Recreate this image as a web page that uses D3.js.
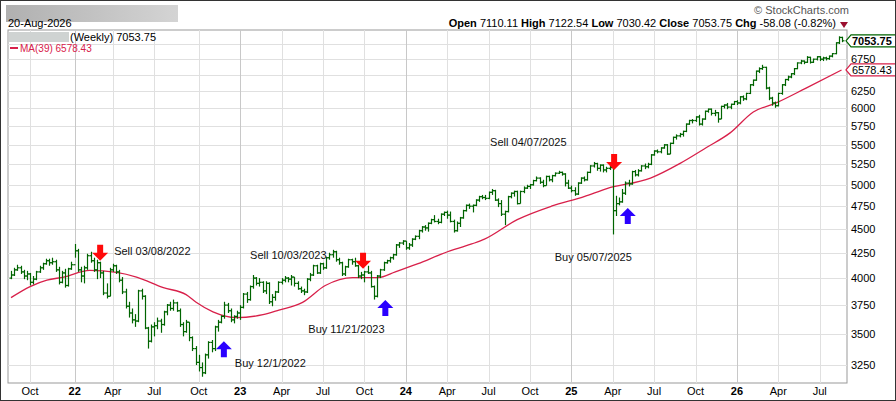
<!DOCTYPE html>
<html>
<head>
<meta charset="utf-8">
<script src="https://cdn.jsdelivr.net/npm/d3@7"></script>
<style>
  body { margin: 0; background: #fff; }
  svg { display: block; font-family: Arial, "Liberation Sans", sans-serif; }
</style>
</head>
<body>
<svg width="896" height="401"></svg>
<script>
const svg = d3.select('svg');

// weekly bars: high low close (open = previous close)
const raw = `
4070 3990 4030
4100 4020 4080
4130 4070 4100
4120 4040 4060
4080 3990 4020
4070 3980 4040
4050 3930 3960
4020 3940 3990
4070 3980 4060
4120 4050 4100
4150 4080 4140
4190 4130 4170
4190 4120 4150
4200 4130 4160
4180 4060 4080
4110 3940 3960
4070 3950 4050
4090 3910 3930
4100 3920 4090
4160 4080 4130
4340 4200 4270
4290 4060 4080
4110 3960 4020
4120 3950 4100
4240 4080 4220
4260 4150 4170
4200 4060 4080
4180 3990 4150
4160 4000 4050
4070 3840 3860
3950 3810 3830
4100 3830 4080
4140 4060 4120
4130 4040 4060
4080 3960 3980
4010 3850 3870
3900 3720 3740
3780 3640 3680
3720 3590 3620
3670 3560 3610
3890 3600 3880
3900 3800 3830
3840 3540 3550
3560 3380 3440
3580 3430 3560
3600 3480 3570
3640 3540 3610
3630 3510 3580
3700 3570 3690
3760 3660 3750
3780 3700 3720
3800 3700 3770
3780 3690 3700
3720 3560 3580
3600 3480 3520
3620 3510 3600
3600 3440 3470
3480 3360 3380
3400 3250 3270
3330 3200 3230
3270 3160 3190
3340 3180 3330
3440 3300 3430
3450 3350 3380
3570 3360 3560
3620 3520 3600
3660 3590 3650
3780 3630 3750
3770 3680 3700
3720 3600 3620
3660 3590 3650
3700 3630 3680
3750 3620 3730
3860 3720 3850
3870 3770 3800
3930 3790 3920
4030 3900 4000
4010 3930 3950
4000 3920 3960
3970 3860 3880
3970 3850 3950
3960 3760 3780
3850 3740 3820
3880 3790 3870
3970 3860 3960
4000 3940 3980
4020 3960 4000
4010 3960 3990
4030 3930 4010
4010 3920 3950
3970 3890 3900
3920 3860 3880
3900 3840 3870
4000 3860 3990
4050 3970 4030
4130 4020 4120
4130 4040 4050
4150 4040 4140
4150 4080 4100
4210 4090 4200
4250 4180 4230
4280 4200 4260
4270 4160 4180
4200 4130 4150
4160 4020 4040
4120 4020 4110
4190 4100 4180
4190 4130 4160
4200 4110 4120
4130 4000 4020
4060 3990 4030
4070 3960 4060
4120 4040 4050
4070 3910 3920
3930 3800 3830
4030 3820 4020
4090 4000 4080
4160 4070 4150
4180 4140 4170
4210 4150 4200
4240 4180 4230
4340 4220 4330
4360 4300 4350
4380 4330 4370
4370 4280 4300
4350 4280 4330
4400 4310 4390
4430 4380 4420
4490 4390 4480
4530 4460 4520
4540 4480 4510
4570 4470 4560
4610 4550 4600
4650 4570 4580
4610 4550 4570
4670 4560 4660
4690 4640 4680
4700 4610 4650
4690 4570 4580
4600 4460 4480
4580 4470 4560
4630 4520 4620
4710 4610 4700
4770 4690 4760
4780 4720 4750
4770 4680 4760
4830 4750 4820
4870 4800 4860
4880 4830 4850
4880 4820 4840
4920 4830 4910
4950 4880 4930
4940 4810 4820
4840 4740 4780
4820 4640 4660
4700 4540 4690
4870 4680 4860
4910 4840 4900
4930 4860 4920
4930 4770 4780
4930 4780 4920
4980 4900 4960
5000 4950 4980
5010 4950 5000
5060 4990 5050
5100 5040 5080
5090 5010 5030
5060 4970 4990
5110 4990 5100
5110 5040 5060
5120 5030 5110
5150 5100 5140
5170 5130 5150
5160 5110 5130
5140 4980 5020
5060 4950 4960
4990 4910 4930
4970 4870 4890
5030 4880 5020
5090 5010 5080
5100 5040 5060
5160 5050 5150
5240 5140 5230
5280 5210 5260
5270 5170 5200
5250 5160 5240
5250 5150 5180
5220 5150 5200
5260 5180 5210
5220 4440 4700
4870 4640 4780
4850 4760 4800
4950 4790 4900
5040 4880 5020
5060 4980 5010
5170 5000 5160
5180 5100 5120
5190 5100 5170
5240 5160 5230
5260 5190 5220
5270 5200 5250
5380 5240 5370
5430 5360 5420
5440 5390 5410
5470 5390 5460
5510 5450 5500
5510 5370 5380
5530 5380 5520
5610 5510 5600
5640 5570 5620
5660 5600 5640
5690 5610 5680
5790 5670 5780
5840 5770 5830
5850 5790 5830
5890 5810 5880
5910 5760 5780
5860 5760 5850
5970 5840 5960
6000 5940 5990
6000 5900 5930
5980 5890 5940
5950 5800 5850
6040 5850 6030
6060 6000 6050
6080 5990 6020
6070 5990 6060
6110 6050 6100
6120 6050 6080
6180 6060 6170
6190 6110 6140
6230 6120 6220
6360 6210 6350
6430 6330 6420
6570 6410 6560
6620 6530 6600
6660 6580 6620
6630 6280 6300
6320 6120 6150
6170 6040 6080
6100 6010 6040
6230 6030 6220
6360 6200 6350
6440 6330 6430
6490 6410 6470
6530 6450 6520
6610 6500 6600
6700 6590 6690
6740 6670 6720
6730 6670 6700
6800 6690 6780
6790 6680 6700
6760 6690 6750
6800 6730 6790
6800 6720 6750
6790 6720 6770
6790 6730 6760
6810 6740 6800
6850 6780 6840
7030 6830 7020
7130 7000 7110
7122.54 7030.42 7053.75`;

const start = new Date(2021, 7, 20);
let prev = 4000;
const bars = raw.trim().split('\n').map((row, i) => {
    let [high, low, close] = row.trim().split(' ').map(Number);
    let d = { date: d3.timeDay.offset(start, i * 7), open: prev, high, low, close };
    prev = close;
    return d;
});
bars[bars.length - 1].open = 7110.11;

// MA(39)
const ma = [
    ['2021-08-20', 3818], ['2021-10-01', 3920], ['2021-11-07', 3980], ['2021-12-14', 4010],
    ['2022-02-09', 4075], ['2022-04-09', 4055], ['2022-05-23', 4010], ['2022-07-21', 3910],
    ['2022-09-09', 3845], ['2022-10-01', 3775], ['2022-11-07', 3690], ['2022-12-28', 3640],
    ['2023-02-25', 3665], ['2023-04-01', 3705], ['2023-05-23', 3775], ['2023-07-12', 3930],
    ['2023-09-10', 4005], ['2023-11-05', 4005], ['2023-12-13', 4060], ['2024-02-01', 4140],
    ['2024-03-31', 4250], ['2024-05-29', 4340], ['2024-06-26', 4390], ['2024-09-06', 4600],
    ['2024-11-20', 4750], ['2025-01-31', 4860], ['2025-03-22', 4955], ['2025-06-26', 5080],
    ['2025-08-31', 5265], ['2025-10-27', 5465], ['2025-12-18', 5660], ['2026-02-07', 5950],
    ['2026-03-29', 6080], ['2026-06-03', 6300], ['2026-08-20', 6578.43]
].map(([d, v]) => ({ date: d3.timeParse('%Y-%m-%d')(d), value: v }));

const signals = [
    { type: 'sell', date: '2022-03-04', price: 4170, label: 'Sell 03/08/2022', dx: 14, dy: -6 },
    { type: 'sell', date: '2023-10-03', price: 4090, label: 'Sell 10/03/2023', dx: -113, dy: -10 },
    { type: 'sell', date: '2025-04-07', price: 5180, label: 'Sell 04/07/2025', dx: -124, dy: -24 },
    { type: 'buy', date: '2022-12-01', price: 3440, label: 'Buy 12/1/2022', dx: 11, dy: 26 },
    { type: 'buy', date: '2023-11-21', price: 3795, label: 'Buy 11/21/2023', dx: -77, dy: 33 },
    { type: 'buy', date: '2025-05-07', price: 4730, label: 'Buy 05/07/2025', dx: -73, dy: 53 }
];

const pLeft = 8, pRight = 847, pTop = 30, pBottom = 383;

const x = d3.scaleTime()
    .domain([bars[0].date, bars[bars.length - 1].date])
    .range([11, 842]);

const y = d3.scaleLog()
    .domain([3113, 7238])
    .range([pBottom, pTop]);

// header
const grad = svg.append('defs').append('linearGradient').attr('id', 'g1');
grad.append('stop').attr('offset', '0%').attr('stop-color', '#b0b0b0');
grad.append('stop').attr('offset', '100%').attr('stop-color', '#d4d4d4');
svg.append('rect').attr('x', 6).attr('y', 5).attr('width', 172).attr('height', 17).attr('fill', 'url(#g1)');
svg.append('text').attr('y', 14).attr('font-size', 11).attr('fill', '#555')
    .attr('text-anchor', 'end').text('© StockCharts.com').attr('x', 849);
svg.append('text').attr('x', 8).attr('y', 27).attr('font-size', 11).text('20-Aug-2026');

const hdr = svg.append('text').attr('x', 836).attr('y', 27).attr('font-size', 11)
    .attr('text-anchor', 'end');
[['Open', ' 7110.11 '], ['High', ' 7122.54 '], ['Low', ' 7030.42 '], ['Close', ' 7053.75 '], ['Chg', ' -58.08 (-0.82%)']]
    .forEach(([k, v]) => {
        hdr.append('tspan').attr('font-weight', 'bold').text(k);
        hdr.append('tspan').text(v);
    });
svg.append('path').attr('d', 'M840,22 L848,22 L844,28 Z').attr('fill', '#9b1030');

// plot frame + grid
svg.append('rect').attr('x', pLeft).attr('y', pTop).attr('width', pRight - pLeft).attr('height', pBottom - pTop)
    .attr('fill', '#fff').attr('stroke', '#999');

const yTicks = d3.range(3250, 7001, 250);
svg.append('g').selectAll('line').data(yTicks).enter().append('line')
    .attr('x1', pLeft).attr('x2', pRight)
    .attr('y1', d => Math.round(y(d)) + 0.5).attr('y2', d => Math.round(y(d)) + 0.5)
    .attr('stroke', '#e0e0e0');

// x ticks: first weekly bar of each quarter month
const xTicks = bars.filter((b, i) => i > 0 && b.date.getMonth() % 3 === 0 &&
    b.date.getMonth() !== bars[i - 1].date.getMonth()).map(b => b.date);
svg.append('g').selectAll('line').data(xTicks).enter().append('line')
    .attr('x1', d => Math.round(x(d)) + 0.5).attr('x2', d => Math.round(x(d)) + 0.5)
    .attr('y1', pTop).attr('y2', pBottom)
    .attr('stroke', d => d.getMonth() === 0 ? '#c8c8c8' : '#e0e0e0');

svg.append('g').selectAll('text').data(xTicks).enter().append('text')
    .attr('x', d => x(d)).attr('y', 395).attr('font-size', 11).attr('text-anchor', 'middle')
    .attr('font-weight', d => d.getMonth() === 0 ? 'bold' : 'normal')
    .text(d => d.getMonth() === 0 ? d3.timeFormat('%y')(d) : d3.timeFormat('%b')(d));

// 6500 and 7000 sit under the value tags
svg.append('g').selectAll('text').data(yTicks.filter(d => d !== 7000 && d !== 6500)).enter().append('text')
    .attr('x', 851).attr('y', d => y(d) + 4).attr('font-size', 11).text(d => d);

// MA line
svg.append('path').datum(ma)
    .attr('d', d3.line().x(d => x(d.date)).y(d => y(d.value)).curve(d3.curveMonotoneX))
    .attr('fill', 'none').attr('stroke', '#d8204a').attr('stroke-width', 1.3);

// bars
const bg = svg.append('g').attr('stroke', '#006400').attr('stroke-width', 1.2);
bars.forEach(b => {
    let cx = Math.round(x(b.date)) + 0.5;
    bg.append('line').attr('x1', cx).attr('x2', cx).attr('y1', y(b.high)).attr('y2', y(b.low));
    bg.append('line').attr('x1', cx - 2).attr('x2', cx).attr('y1', y(b.open)).attr('y2', y(b.open));
    bg.append('line').attr('x1', cx).attr('x2', cx + 2).attr('y1', y(b.close)).attr('y2', y(b.close));
});

// signals
const parse = d3.timeParse('%Y-%m-%d');
signals.forEach(s => {
    let sx = x(parse(s.date)), sy = y(s.price);
    let p = s.type === 'sell'
        ? `M${sx - 3},${sy - 16} h6 v8 h5 l-8,8 l-8,-8 h5 Z`
        : `M${sx - 3},${sy + 16} h6 v-8 h5 l-8,-8 l-8,8 h5 Z`;
    svg.append('path').attr('d', p).attr('fill', s.type === 'sell' ? '#ff0a0a' : '#2a00ff');
    svg.append('text').attr('x', sx + s.dx).attr('y', sy + s.dy).attr('font-size', 11)
        .attr('fill', '#111').text(s.label);
});

// legend
svg.append('rect').attr('x', 9).attr('y', 32).attr('width', 60).attr('height', 10).attr('fill', '#cfd3d2');
svg.append('text').attr('x', 70).attr('y', 41).attr('font-size', 11).text('(Weekly) 7053.75');
svg.append('rect').attr('x', 10).attr('y', 47).attr('width', 8).attr('height', 2).attr('fill', '#d8204a');
svg.append('text').attr('x', 20).attr('y', 52).attr('font-size', 10).attr('fill', '#d8204a').text('MA(39) 6578.43');

// last value tags
function tag(v, color, bold) {
    let ty = y(v);
    svg.append('path')
        .attr('d', `M${pRight - 1},${ty} l5,-6 h47 v12 h-47 Z`)
        .attr('fill', '#fff').attr('stroke', color).attr('stroke-width', 1.2);
    svg.append('text').attr('x', pRight + 5).attr('y', ty + 4).attr('font-size', 11)
        .attr('font-weight', bold ? 'bold' : 'normal').text(v.toFixed(2));
}
tag(6578.43, '#d8204a', false);
tag(7053.75, '#006400', true);

// outer border
svg.append('rect').attr('x', 0.5).attr('y', 0.5).attr('width', 895).attr('height', 400)
    .attr('fill', 'none').attr('stroke', '#333');
</script>
</body>
</html>
